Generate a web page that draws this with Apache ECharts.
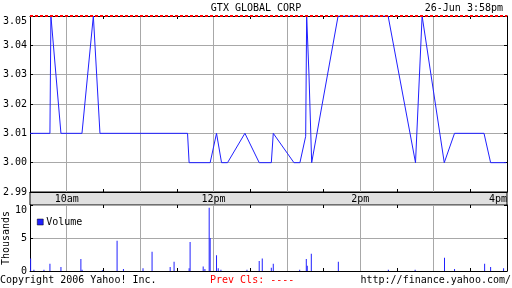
<!DOCTYPE html>
<html><head><meta charset="utf-8">
<script src="https://cdn.jsdelivr.net/npm/echarts@6/dist/echarts.min.js"></script>
<style>html,body{margin:0;padding:0;background:#fff}#c{width:512px;height:288px}</style>
</head><body><div id="c"></div>
<script>
// minutes since 9:30
const priceTimes = [0,16.3,17.1,25.3,42.5,51.8,57.2,128.8,130.1,147.3,152.5,153.4,156.6,161.5,175.7,187.4,197.3,198.9,215.8,220.7,225.4,226.2,228.1,230.3,251.9,292.8,315.2,320.6,338.7,347.1,371.2,376.6,389.4];
const priceValues = [3.01,3.01,3.05,3.01,3.01,3.05,3.01,3.01,3.00,3.00,3.01,3.01,3.00,3.00,3.01,3.00,3.00,3.01,3.00,3.00,3.009,3.05,3.03,3.00,3.05,3.05,3.00,3.05,3.00,3.01,3.01,3.00,3.00];
const volTimes = [0.5,3.2,11.4,16.3,25.3,41.6,42.6,59.2,71.2,76.4,92.4,99.8,114.6,117.8,130.1,130.9,141.6,143.0,146.5,147.3,152.5,153.9,156.1,177.4,187.4,189.9,197.3,198.9,220.5,225.9,226.7,230.0,252.1,293.0,314.9,338.9,347.1,371.7,376.6,387.2];
const volValues = [1.9,0.2,0.2,1.1,0.6,1.8,0.2,0.1,4.6,0.3,0.4,2.9,0.6,1.4,0.4,4.4,0.7,0.3,9.6,5.0,2.4,0.4,0.2,0.2,1.5,1.9,0.5,1.1,0.2,1.8,0.8,2.6,1.4,0.2,0.2,2.0,0.3,1.1,0.6,0.4];
const dayHigh = 3.05;
const timeSlots = ['9:30','10am','10:30','11am','11:30','12pm','12:30','1pm','1:30','2pm','2:30','3pm','3:30','4pm'];
const shownTimeLabels = ['10am','12pm','2pm','4pm'];
const priceMin = 2.99, priceMax = 3.05, priceStep = 0.01;
const volMin = 0, volMax = 10, volStep = 5;
const sessionMinutes = 390;

const FONT = 'DejaVu Sans Mono';
const GRID_C = '#a8a8a8';
const BLUE = '#2020ff';

function catAxis(grid, pos, opts) {
  return Object.assign({
    type: 'category', gridIndex: grid, position: pos, data: timeSlots, boundaryGap: false,
    axisLine: {show: true, lineStyle: {color: '#000', width: 1}},
    axisTick: {show: true, inside: true, length: 3, lineStyle: {color: '#000'}, interval: (i) => i % 2 === 0},
    axisLabel: {show: false},
    splitLine: {show: false}
  }, opts || {});
}
const hourSplit = {show: true, interval: (i) => i % 2 === 1 && i < timeSlots.length - 1, lineStyle: {color: GRID_C, width: 1}};
const gridBase = {left: 30, right: 5, containLabel: false, outerBoundsMode: 'none'};

const chart = echarts.init(document.getElementById('c'), null, {renderer: 'canvas'});
chart.setOption({
  animation: false,
  backgroundColor: '#fff',
  textStyle: {fontFamily: FONT, fontSize: 10, color: '#000'},
  title: [
    {text: 'GTX GLOBAL CORP', left: 'center', top: -2, textStyle: {fontFamily: FONT, fontSize: 10, fontWeight: 'normal', color: '#000'}},
    {text: '26-Jun 3:58pm', right: 4, top: -2, textStyle: {fontFamily: FONT, fontSize: 10, fontWeight: 'normal', color: '#000'}},
    {text: 'Copyright 2006 Yahoo! Inc.', left: -5, top: 270, textStyle: {fontFamily: FONT, fontSize: 10, fontWeight: 'normal', color: '#000'}},
    {text: 'Prev Cls: ----', left: 205, top: 270, textStyle: {fontFamily: FONT, fontSize: 10, fontWeight: 'normal', color: '#ff0000'}},
    {text: 'http://finance.yahoo.com/', right: -4, top: 270, textStyle: {fontFamily: FONT, fontSize: 10, fontWeight: 'normal', color: '#000'}}
  ],
  legend: {
    data: ['Volume'], left: 32, top: 212, itemWidth: 6, itemHeight: 6, itemGap: 4,
    icon: 'rect', textStyle: {fontFamily: FONT, fontSize: 10, color: '#000', padding: [0, 0, 0, -2]},
    itemStyle: {borderColor: '#000', borderWidth: 0.5}
  },
  grid: [
    Object.assign({top: 16, height: 176}, gridBase),
    Object.assign({top: 205, height: 66}, gridBase),
    Object.assign({top: 192, height: 13, show: true, backgroundColor: '#e0e0e0', borderColor: '#000', borderWidth: 1}, gridBase)
  ],
  xAxis: [
    {type: 'value', gridIndex: 0, min: 0, max: sessionMinutes, show: false, position: 'bottom'},
    catAxis(0, 'bottom', {splitLine: hourSplit}),
    catAxis(0, 'top'),
    {type: 'value', gridIndex: 1, min: 0, max: sessionMinutes, show: false, position: 'bottom'},
    catAxis(1, 'bottom', {splitLine: hourSplit}),
    catAxis(1, 'top', {axisLine: {show: false}}),
    catAxis(2, 'top', {
      axisLine: {show: false}, axisTick: {show: false},
      axisLabel: {show: true, inside: true, margin: 2, fontFamily: FONT, fontSize: 10, color: '#000',
        interval: 0, alignMaxLabel: 'right',
        formatter: (v) => shownTimeLabels.indexOf(v) >= 0 ? v : ''}
    })
  ],
  yAxis: [
    {type: 'value', gridIndex: 0, position: 'left', min: priceMin, max: priceMax, interval: priceStep,
      axisLine: {show: true, lineStyle: {color: '#000'}},
      axisTick: {show: true, inside: true, length: 3, lineStyle: {color: '#000'}},
      axisLabel: {fontFamily: FONT, fontSize: 10, color: '#000', margin: 3, formatter: (v) => v.toFixed(2), verticalAlignMaxLabel: 'top'},
      splitLine: {show: true, lineStyle: {color: GRID_C, width: 1}}},
    {type: 'value', gridIndex: 0, position: 'right', min: priceMin, max: priceMax, interval: priceStep,
      axisLine: {show: true, lineStyle: {color: '#000'}},
      axisTick: {show: true, inside: true, length: 3, lineStyle: {color: '#000'}},
      axisLabel: {show: false}, splitLine: {show: false}},
    {type: 'value', gridIndex: 1, position: 'left', min: volMin, max: volMax, interval: volStep,
      name: 'Thousands', nameLocation: 'middle', nameGap: 19, nameMoveOverlap: false,
      nameTextStyle: {fontFamily: FONT, fontSize: 10, color: '#000'},
      axisLine: {show: true, lineStyle: {color: '#000'}},
      axisTick: {show: true, inside: true, length: 3, lineStyle: {color: '#000'}},
      axisLabel: {fontFamily: FONT, fontSize: 10, color: '#000', margin: 3, verticalAlignMaxLabel: 'top'},
      splitLine: {show: true, lineStyle: {color: GRID_C, width: 1}}},
    {type: 'value', gridIndex: 1, position: 'right', min: volMin, max: volMax, interval: volStep,
      axisLine: {show: true, lineStyle: {color: '#000'}},
      axisTick: {show: true, inside: true, length: 3, lineStyle: {color: '#000'}},
      axisLabel: {show: false}, splitLine: {show: false}},
    {type: 'value', gridIndex: 2, show: false, min: 0, max: 1}
  ],
  series: [
    {name: 'Price', type: 'line', xAxisIndex: 0, yAxisIndex: 0,
      data: priceTimes.map((t, i) => [t, priceValues[i]]),
      showSymbol: false, symbol: 'none', lineStyle: {color: BLUE, width: 1}, itemStyle: {color: BLUE},
      markLine: {silent: true, symbol: 'none', label: {show: false},
        lineStyle: {color: '#ff0000', type: [3, 2], width: 2},
        data: [{yAxis: dayHigh}]}},
    {name: 'Volume', type: 'bar', xAxisIndex: 3, yAxisIndex: 2,
      data: volTimes.map((t, i) => [t, volValues[i]]),
      barWidth: 1, itemStyle: {color: BLUE}}
  ]
});
</script></body></html>
